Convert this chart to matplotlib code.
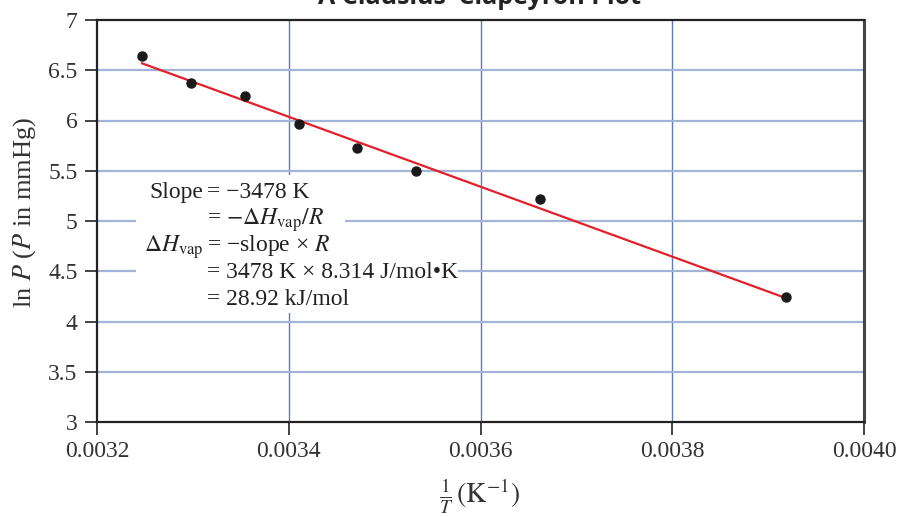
import numpy as np
import matplotlib.pyplot as plt
from matplotlib.patches import Rectangle

# data
inv_T = [0.003247, 0.003298, 0.003354, 0.003411, 0.003471, 0.003533, 0.003662, 0.003919]
ln_P = [6.642, 6.373, 6.244, 5.965, 5.726, 5.498, 5.219, 4.244]
slope = -3478.0
intercept = 17.862

x_ticks = [0.0032, 0.0034, 0.0036, 0.0038, 0.0040]
x_ticklabels = ['0.0032', '0.0034', '0.0036', '0.0038', '0.0040']
y_ticks = [3, 3.5, 4, 4.5, 5, 5.5, 6, 6.5, 7]
y_ticklabels = ['3', '3.5', '4', '4.5', '5', '5.5', '6', '6.5', '7']

note_left = ['Slope', '', r'$\Delta H_{\mathrm{vap}}$', '', '']
note_right = [
    '= \u22123478 K',
    r'= $-\Delta H_{\mathrm{vap}}/R$',
    '= \u2212slope \u00d7 $R$',
    '= 3478 K \u00d7 8.314 J/mol\u2022K',
    '= 28.92 kJ/mol',
]

plt.rcParams['font.family'] = 'serif'
plt.rcParams['font.serif'] = ['Liberation Serif', 'DejaVu Serif']
plt.rcParams['mathtext.fontset'] = 'stix'

fig = plt.figure(figsize=(8.99, 5.17), dpi=100)
ax = fig.add_axes([97/899, 1 - 422/517, 767/899, 402/517])

ax.set_xlim(0.0032, 0.0040)
ax.set_ylim(3, 7)

# grid
for xv in x_ticks[1:-1]:
    ax.axvline(xv, color='#5b7dbd', lw=1.0, zorder=0)
for yv in y_ticks[1:-1]:
    ax.axhline(yv, color='#a3b4d6', lw=1.6, zorder=0)

# white box behind the note
ax.add_patch(Rectangle((0.0508, 0.2711), 0.2725, 0.3433, transform=ax.transAxes,
                       facecolor='white', edgecolor='none', zorder=1))

xf = np.array([inv_T[0], inv_T[-1]])
ax.plot(xf, slope * xf + intercept, color='#e3202a', lw=1.6, zorder=2)
ax.plot(inv_T, ln_P, 'o', color='#1a1a1a', ms=6.5, zorder=3)

ax.set_xticks(x_ticks)
ax.set_xticklabels(x_ticklabels)
ax.set_yticks(y_ticks)
ax.set_yticklabels(y_ticklabels)
ax.tick_params(direction='out', length=9, width=1.2, labelsize=17, pad=5,
               colors='#222222', labelcolor='#333333')
for s in ax.spines.values():
    s.set_linewidth(1.6)
    s.set_color('#222222')
ax.spines['right'].set_linewidth(2.2)
ax.spines['right'].set_color('#444444')

# note text, aligned on the "=" signs
for i in range(len(note_right)):
    yb = 1 - (198 + i * 26.75) / 517
    if note_left[i]:
        fig.text(203/899, yb, note_left[i], ha='right', va='baseline', fontsize=17,
                 color='#222222')
    t = fig.text(207/899, yb, note_right[i], ha='left', va='baseline', fontsize=17,
                 color='#222222')
    if i == 3:
        t.set_bbox(dict(facecolor='white', edgecolor='none', pad=0))

fig.text(480/899, 1 - 496/517, r'$\frac{1}{T}\,(\mathrm{K}^{-1})$', ha='center',
         va='center', fontsize=20, color='#333333')
fig.text(25/899, 1 - 212/517, 'ln $P$ ($P$ in mmHg)', rotation=90, ha='center',
         va='center', fontsize=19, color='#333333')
fig.text(480/899, 1 - 4.5/517, 'A Clausius\u2013Clapeyron Plot', ha='center',
         va='baseline', fontsize=18, fontweight='bold', family='Open Sans',
         color='#222222')

fig.savefig('out.png', dpi=100)
